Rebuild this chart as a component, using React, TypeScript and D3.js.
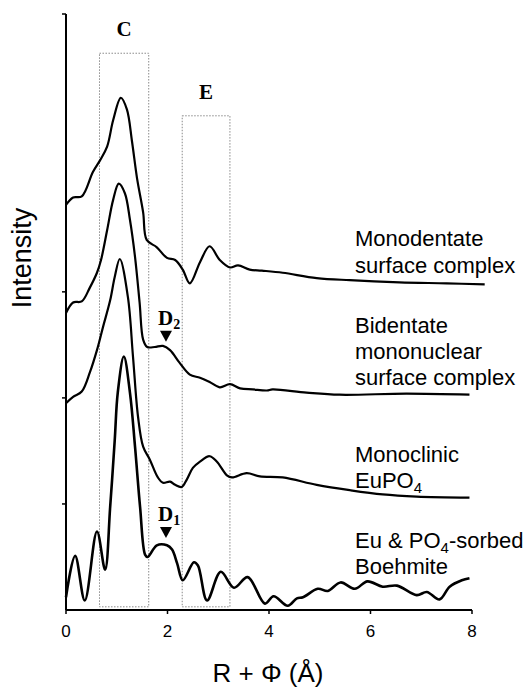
import React from "react";
import * as d3 from "d3";

// R + Phi (Angstrom) vs stacked intensity, four spectra
const monodentate: [number, number][] = [
  [0, 3.82], [0.14, 3.89], [0.31, 3.9], [0.53, 4.13], [0.67, 4.24], [0.81, 4.37],
  [0.93, 4.62], [1.08, 4.83], [1.2, 4.72], [1.3, 4.42], [1.4, 4.07], [1.52, 3.75],
  [1.59, 3.49], [1.79, 3.42], [1.99, 3.32], [2.15, 3.3], [2.3, 3.21], [2.44, 3.08],
  [2.64, 3.28], [2.83, 3.43], [3.03, 3.3], [3.23, 3.23], [3.39, 3.25], [3.62, 3.21],
  [3.86, 3.2], [4.27, 3.18], [4.94, 3.13], [5.59, 3.11], [6.57, 3.09], [7.5, 3.08],
  [8.25, 3.07],
];

const bidentate: [number, number][] = [
  [0, 2.8], [0.14, 2.9], [0.31, 2.91], [0.47, 3.04], [0.61, 3.18], [0.69, 3.3],
  [0.81, 3.58], [0.93, 3.87], [1.04, 4.02], [1.16, 3.93], [1.26, 3.68], [1.36, 3.33],
  [1.45, 2.9], [1.52, 2.55], [1.6, 2.48], [1.75, 2.48], [1.91, 2.49], [2.05, 2.45],
  [2.24, 2.33], [2.44, 2.22], [2.64, 2.19], [2.83, 2.15], [3.03, 2.1], [3.23, 2.13],
  [3.43, 2.09], [3.68, 2.08], [3.96, 2.07], [4.07, 2.08], [4.74, 2.05], [5.39, 2.03],
  [6.71, 2.04], [7.95, 2.03],
];

const monoclinic: [number, number][] = [
  [0, 1.95], [0.14, 2.01], [0.31, 2.06], [0.47, 2.24], [0.61, 2.45], [0.73, 2.67],
  [0.87, 2.92], [0.96, 3.14], [1.06, 3.31], [1.22, 2.95], [1.32, 2.39], [1.42, 1.82],
  [1.52, 1.54], [1.65, 1.42], [1.81, 1.25], [1.91, 1.2], [2.05, 1.21], [2.15, 1.18],
  [2.28, 1.16], [2.38, 1.23], [2.5, 1.34], [2.64, 1.4], [2.83, 1.45], [2.97, 1.4],
  [3.17, 1.27], [3.27, 1.25], [3.56, 1.29], [3.82, 1.26], [4.27, 1.25], [4.94, 1.18],
  [5.59, 1.13], [6.24, 1.09], [6.91, 1.07], [7.95, 1.06],
];

const boehmite: [number, number][] = [
  [0, 0.12], [0.18, 0.51], [0.37, 0.09], [0.61, 0.74], [0.77, 0.38], [0.87, 0.97],
  [0.96, 1.6], [1.02, 2.05], [1.14, 2.39], [1.26, 2.05], [1.36, 1.54], [1.46, 0.97],
  [1.56, 0.52], [1.61, 0.5], [1.79, 0.61], [1.99, 0.61], [2.09, 0.57], [2.19, 0.44],
  [2.3, 0.28], [2.52, 0.45], [2.6, 0.42], [2.78, 0.09], [3.05, 0.36], [3.31, 0.21],
  [3.58, 0.31], [3.92, 0.06], [4.09, 0.13], [4.37, 0.04], [4.55, 0.11], [4.67, 0.12],
  [4.96, 0.2], [5.16, 0.18], [5.41, 0.26], [5.69, 0.2], [5.94, 0.27], [6.24, 0.22],
  [6.52, 0.23], [6.91, 0.14], [7.11, 0.17], [7.36, 0.1], [7.56, 0.22], [7.8, 0.28],
  [7.95, 0.3],
];

const boxNames = ["C", "E"];
const boxX0 = [0.66, 2.29];
const boxX1 = [1.63, 3.23];
const boxTop = [5.25, 4.66];

const markerNames = ["2", "1"];
const markerX = [1.97, 1.97];
const markerY = [2.53, 0.68];

const xTicks = [0, 2, 4, 6, 8];
const yTicks = [1, 2, 3];

const W = 530;
const H = 689;
const sans = "'Liberation Sans', Arial, sans-serif";
const serif = "'Liberation Serif', 'Times New Roman', serif";

export default function App() {
  const x = d3.scaleLinear().domain([0, 8]).range([66, 472]);
  const y = d3.scaleLinear().domain([0, 5.62]).range([610, 14]);

  const line = d3
    .line<[number, number]>()
    .x((d) => x(d[0]))
    .y((d) => y(d[1]))
    .curve(d3.curveCatmullRom.alpha(0.5));

  const series = [
    { data: monodentate, w: 2.2 },
    { data: bidentate, w: 2.2 },
    { data: monoclinic, w: 2.2 },
    { data: boehmite, w: 2.6 },
  ];

  const x0 = x(0);
  const y0 = y(0);

  return (
    <svg width={W} height={H} style={{ position: "absolute", left: 0, top: 0, background: "#fff" }}>
      {/* dotted region boxes */}
      {boxNames.map((name, i) => (
        <g key={name}>
          <rect
            x={x(boxX0[i])}
            y={y(boxTop[i])}
            width={x(boxX1[i]) - x(boxX0[i])}
            height={y(0.03) - y(boxTop[i])}
            fill="none"
            stroke="#8a8a8a"
            strokeWidth={1}
            strokeDasharray="1.5 1.5"
          />
          <text
            x={(x(boxX0[i]) + x(boxX1[i])) / 2}
            y={y(boxTop[i]) - 17}
            textAnchor="middle"
            fontFamily={serif}
            fontWeight="bold"
            fontSize={21}
          >
            {name}
          </text>
        </g>
      ))}

      {/* curves */}
      {series.map((s, i) => (
        <path key={i} d={line(s.data) || ""} fill="none" stroke="#000" strokeWidth={s.w} strokeLinejoin="round" />
      ))}

      {/* D markers */}
      {markerNames.map((n, i) => {
        const mx = x(markerX[i]);
        const my = y(markerY[i]);
        return (
          <g key={n}>
            <path d={`M${mx - 6},${my - 11} L${mx + 6},${my - 11} L${mx},${my} Z`} fill="#000" />
            <text x={mx - 8} y={my - 17} fontFamily={serif} fontWeight="bold" fontSize={21}>
              D
              <tspan fontSize={14} dy={4}>{n}</tspan>
            </text>
          </g>
        );
      })}

      {/* axes */}
      <line x1={x0} x2={x0} y1={y(5.62)} y2={y0} stroke="#000" strokeWidth={2} />
      <line x1={x0} x2={x(8)} y1={y0} y2={y0} stroke="#000" strokeWidth={2} />
      <line x1={x0 - 4} x2={x0} y1={y(5.62)} y2={y(5.62)} stroke="#000" strokeWidth={1.5} />
      {yTicks.map((t) => (
        <line key={t} x1={x0 - 4} x2={x0} y1={y(t)} y2={y(t)} stroke="#000" strokeWidth={1.5} />
      ))}
      {xTicks.map((t) => (
        <g key={t}>
          <line x1={x(t)} x2={x(t)} y1={y0} y2={y0 + 4} stroke="#000" strokeWidth={1.5} />
          <text x={x(t)} y={y0 + 27} textAnchor="middle" fontFamily={sans} fontSize={17}>
            {t}
          </text>
        </g>
      ))}

      <text x={268} y={682} textAnchor="middle" fontFamily={sans} fontSize={26}>
        R + Φ (Å)
      </text>
      <text
        transform={`translate(31,258) rotate(-90)`}
        textAnchor="middle"
        fontFamily={sans}
        fontSize={27}
      >
        Intensity
      </text>

      {/* series labels */}
      <g fontFamily={sans} fontSize={22}>
        <text x={355} y={246}>Monodentate</text>
        <text x={355} y={273}>surface complex</text>
        <text x={355} y={333}>Bidentate</text>
        <text x={355} y={359}>mononuclear</text>
        <text x={355} y={385}>surface complex</text>
        <text x={355} y={462}>Monoclinic</text>
        <text x={355} y={488}>
          EuPO<tspan fontSize={15} dy={5}>4</tspan>
        </text>
        <text x={355} y={548}>
          Eu &amp; PO<tspan fontSize={15} dy={5}>4</tspan>
          <tspan dy={-5}>-sorbed</tspan>
        </text>
        <text x={355} y={574}>Boehmite</text>
      </g>
    </svg>
  );
}
